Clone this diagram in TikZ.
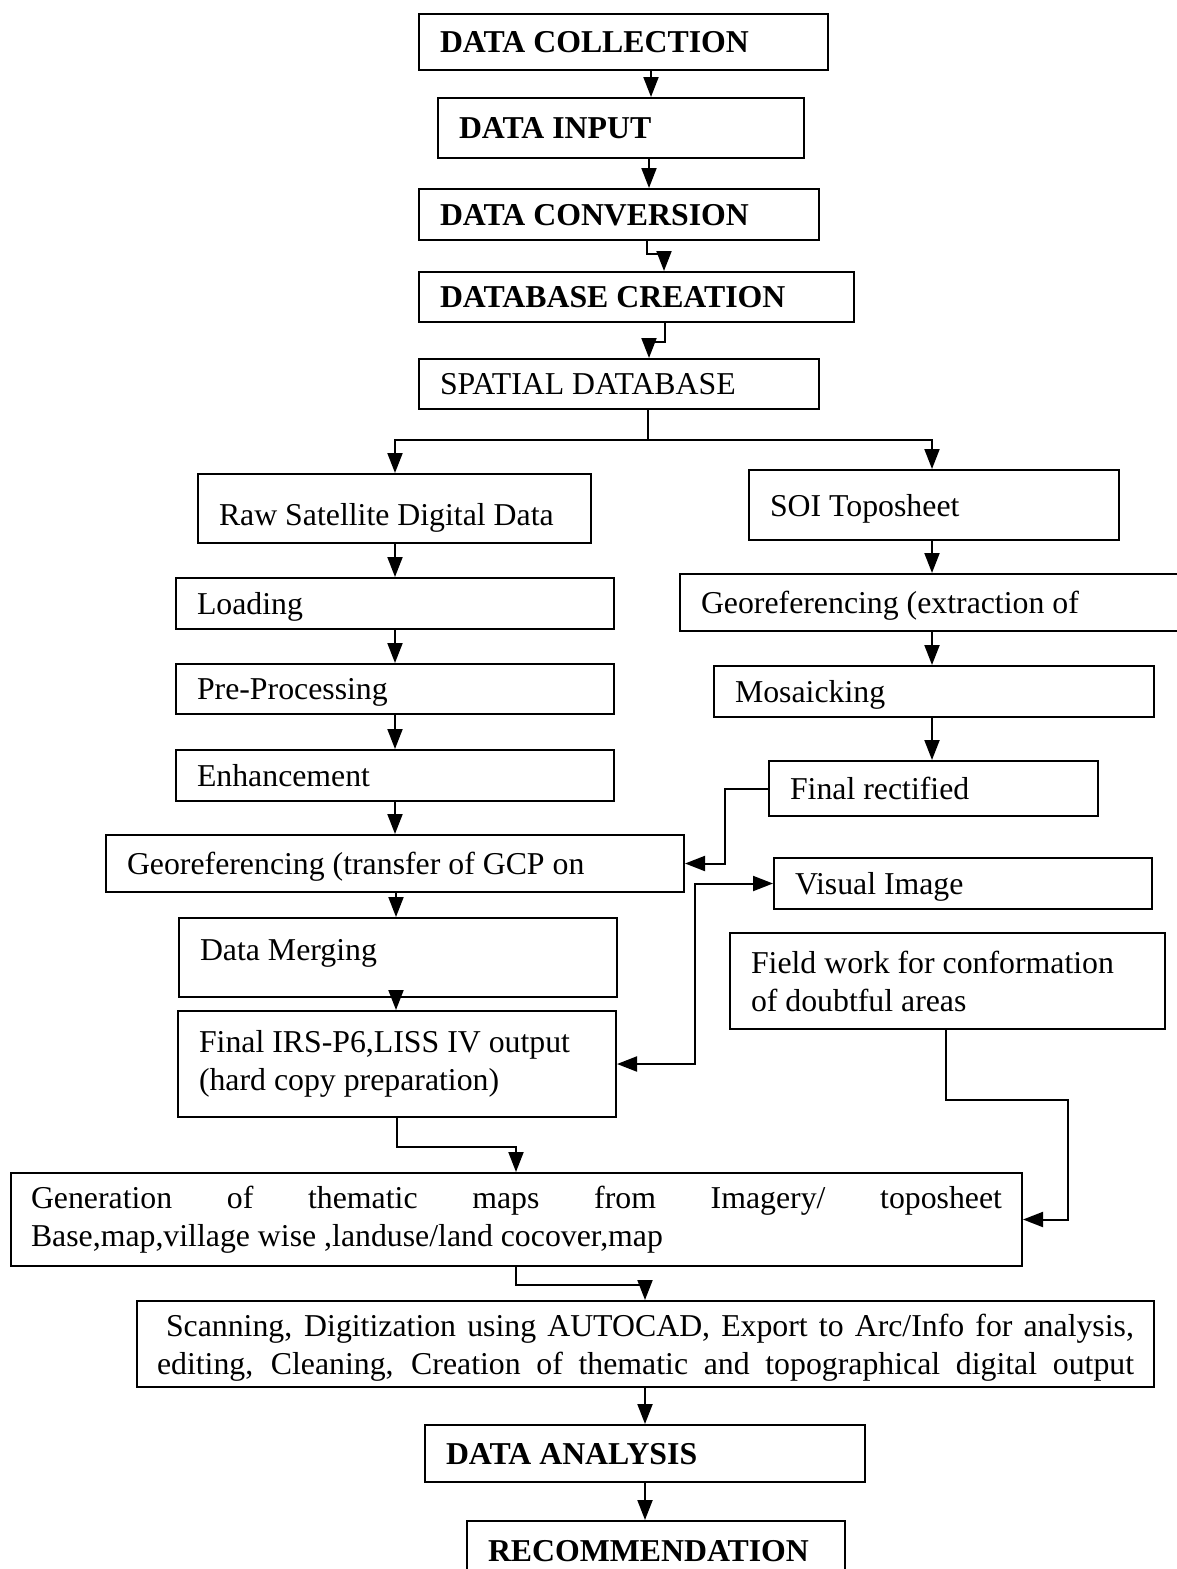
\documentclass[tikz,border=0pt]{standalone}
\usepackage{fontspec}
\setmainfont{Liberation Serif}
\usetikzlibrary{arrows.meta}

\begin{document}
\begin{tikzpicture}[x=1pt,y=-1pt,
  box/.style={draw, line width=2pt, anchor=north west, inner xsep=21pt, inner ysep=0pt,
    align=flush left, font=\fontsize{31.8}{38}\selectfont},
  line/.style={box, text depth=0pt},
  flow/.style={line width=2pt, -{Triangle[length=20pt,width=15pt]}},
  both/.style={line width=2pt, {Triangle[length=20pt,width=15pt]}-{Triangle[length=20pt,width=15pt]}}]
\useasboundingbox (0,0) rectangle (1176,1569);
% main column
\node [line, text width=367pt, minimum height=56pt] (dc) at (418,13) {\bfseries DATA COLLECTION};
\node [line, text width=324pt, minimum height=60pt] (di) at (437,97) {\bfseries DATA INPUT};
\node [line, text width=358pt, minimum height=51pt] (dcv) at (418,188) {\bfseries DATA CONVERSION};
\node [line, text width=393pt, minimum height=50pt] (dbc) at (418,271) {\bfseries DATABASE CREATION};
\node [line, text width=358pt, minimum height=50pt] (sd) at (418,358) {SPATIAL DATABASE};
% left column
\node [line, text width=351pt, minimum height=69pt, text height=34pt] (raw) at (197,473) {Raw Satellite Digital Data};
\node [line, text width=396pt, minimum height=51pt] (ld) at (175,577) {Loading};
\node [line, text width=396pt, minimum height=50pt] (pp) at (175,663) {Pre-Processing};
\node [line, text width=396pt, minimum height=51pt] (en) at (175,749) {Enhancement};
\node [line, text width=536pt, minimum height=57pt] (geo) at (105,834) {Georeferencing (transfer of GCP on};
\node [line, text width=396pt, minimum height=79pt, text height=6pt] (dm) at (178,917) {Data Merging};
\node [box, text width=396pt, minimum height=106pt] (fi) at (177,1010) {Final IRS-P6,LISS IV output\\(hard copy preparation)};
% right column
\node [line, text width=328pt, minimum height=70pt] (soi) at (748,469) {SOI Toposheet};
\node [line, text width=458pt, minimum height=57pt] (geox) at (679,573) {Georeferencing (extraction of};
\node [line, text width=398pt, minimum height=51pt] (mos) at (713,665) {Mosaicking};
\node [line, text width=287pt, minimum height=55pt] (fr) at (768,760) {Final rectified};
\node [line, text width=336pt, minimum height=51pt] (vi) at (773,857) {Visual Image};
\node [box, text width=393pt, minimum height=96pt] (fw) at (729,932) {Field work for conformation\\of doubtful areas};
% lower part
\node [box, inner xsep=20pt, text width=971pt, minimum height=93pt] (gen) at (10,1172)
  {\makebox[971pt][s]{Generation of thematic maps from Imagery/ toposheet}\\Base,map,village wise ,landuse/land cocover,map};
\node [box, inner xsep=20pt, text width=977pt, minimum height=86pt, text height=30pt] (sc) at (136,1300)
  {\makebox[977pt][s]{\hspace*{9pt}Scanning, Digitization using AUTOCAD, Export to Arc/Info for analysis,}\\
   \makebox[977pt][s]{editing, Cleaning, Creation of thematic and topographical digital output}};
\node [line, text width=398pt, minimum height=57pt] (da) at (424,1424) {\bfseries DATA ANALYSIS};
\node [line, text width=336pt, minimum height=60pt] (rec) at (466,1520) {\bfseries RECOMMENDATION};

\draw [flow] (dc.south -| 651,0) -- (di.north -| 651,0);
\draw [flow] (di.south -| 649,0) -- (dcv.north -| 649,0);
\draw [flow] (dcv.south -| 647,0) -- ++(0,13) -| (dbc.north -| 664,0);
\draw [flow] (dbc.south -| 665,0) -- ++(0,19) -| (sd.north -| 649,0);
\draw [line width=2pt] (sd.south -| 648,0) -- ++(0,30) coordinate (split);
\draw [flow] (split) -| (raw.north -| 395,0);
\draw [flow] (split) -| (soi.north -| 932,0);
\draw [flow] (raw.south -| 395,0) -- (ld.north -| 395,0);
\draw [flow] (ld.south -| 395,0) -- (pp.north -| 395,0);
\draw [flow] (pp.south -| 395,0) -- (en.north -| 395,0);
\draw [flow] (en.south -| 395,0) -- (geo.north -| 395,0);
\draw [flow] (geo.south -| 396,0) -- (dm.north -| 396,0);
\draw [flow] (dm.south -| 396,0) -- (fi.north -| 396,0);
\draw [flow] (fi.south -| 397,0) -- ++(0,29) -| (gen.north -| 516,0);
\draw [flow] (soi.south -| 932,0) -- (geox.north -| 932,0);
\draw [flow] (geox.south -| 932,0) -- (mos.north -| 932,0);
\draw [flow] (mos.south -| 932,0) -- (fr.north -| 932,0);
\draw [flow] (fr.west) -- (fr.west -| 725,0) |- (geo.east);
\draw [both] (vi.west) -- (vi.west -| 695,0) |- (fi.east);
\draw [flow] (fw.south -| 946,0) |- (1068,1100) |- (gen.east);
\draw [flow] (gen.south -| 516,0) -- ++(0,18) -| (sc.north -| 645,0);
\draw [flow] (sc.south -| 645,0) -- (da.north -| 645,0);
\draw [flow] (da.south -| 645,0) -- (rec.north -| 645,0);
\end{tikzpicture}
\end{document}
